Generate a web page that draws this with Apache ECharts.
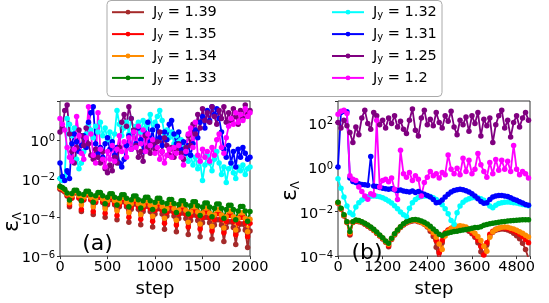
<!DOCTYPE html>
<html><head><meta charset="utf-8">
<script src="https://cdn.jsdelivr.net/npm/echarts@6/dist/echarts.min.js"></script>
<style>html,body{margin:0;padding:0;background:#fff}#c{width:549px;height:303px}</style>
</head><body><div id="c"></div>
<script>
const FONT = 'DejaVu Sans';
const jyLabels = ['1.39','1.35','1.34','1.33','1.32','1.31','1.25','1.2'];
const colors = ['#a52a2a','#ff0000','#ff8c00','#008000','#00ffff','#0000ff','#800080','#ff00ff'];

const xTicksA = [0,500,1000,1500,2000];
const xTicksB = [0,1200,2400,3600,4800];
const yExpA = [-6,-4,-2,0];
const yExpB = [-4,-2,0,2];

const stepsA = [0,25,50,75,100,125,150,175,200,225,250,275,300,325,350,375,400,425,450,475,500,525,550,575,600,625,650,675,700,725,750,775,800,825,850,875,900,925,950,975,1000,1025,1050,1075,1100,1125,1150,1175,1200,1225,1250,1275,1300,1325,1350,1375,1400,1425,1450,1475,1500,1525,1550,1575,1600,1625,1650,1675,1700,1725,1750,1775,1800,1825,1850,1875,1900,1925,1950,1975,2000];

const brownA = [2.8e-3,2.5e-3,2.0e-3,1.26e-3,3.5e-4,
1.0e-3,1.8e-3,1.8e-3,1.0e-3,2.0e-4,
7.8e-4,1.4e-3,1.4e-3,7.8e-4,1.4e-4,
5.8e-4,1.05e-3,1.05e-3,5.8e-4,1.0e-4,
4.5e-4,8.1e-4,8.1e-4,4.5e-4,7.6e-5,
3.5e-4,6.3e-4,6.3e-4,3.5e-4,5.6e-5,
2.6e-4,4.8e-4,4.8e-4,2.6e-4,4.2e-5,
2.0e-4,3.7e-4,3.7e-4,2.0e-4,3.2e-5,
1.5e-4,2.8e-4,2.8e-4,1.5e-4,2.4e-5,
1.17e-4,2.2e-4,2.2e-4,1.17e-4,1.8e-5,
8.7e-5,1.66e-4,1.66e-4,8.7e-5,1.3e-5,
6.8e-5,1.3e-4,1.3e-4,6.8e-5,1.0e-5,
5.2e-5,1.0e-4,1.0e-4,5.2e-5,7.6e-6,
4.0e-5,7.6e-5,7.6e-5,4.0e-5,5.6e-6,
3.0e-5,5.9e-5,5.9e-5,3.0e-5,4.0e-6,
2.2e-5,4.5e-5,4.5e-5,2.2e-5,2.8e-6,
2.0e-5];

const redA = [3.3e-3,2.8e-3,2.2e-3,1.4e-3,4.5e-4,
1.0e-3,1.9e-3,1.9e-3,1.0e-3,2.5e-4,
8.3e-4,1.5e-3,1.5e-3,8.3e-4,2.0e-4,
6.6e-4,1.23e-3,1.23e-3,6.6e-4,1.6e-4,
5.4e-4,1.0e-3,1.0e-3,5.4e-4,1.26e-4,
4.4e-4,8.1e-4,8.1e-4,4.4e-4,1.0e-4,
3.5e-4,6.6e-4,6.6e-4,3.5e-4,7.9e-5,
2.8e-4,5.4e-4,5.4e-4,2.8e-4,6.3e-5,
2.3e-4,4.4e-4,4.4e-4,2.3e-4,5.0e-5,
1.8e-4,3.5e-4,3.5e-4,1.8e-4,4.0e-5,
1.5e-4,2.9e-4,2.9e-4,1.5e-4,3.2e-5,
1.2e-4,2.3e-4,2.3e-4,1.2e-4,2.5e-5,
9.8e-5,1.9e-4,1.9e-4,9.8e-5,2.0e-5,
7.8e-5,1.55e-4,1.55e-4,7.8e-5,1.6e-5,
6.3e-5,1.26e-4,1.26e-4,6.3e-5,1.26e-5,
5.1e-5,1.0e-4,1.0e-4,5.1e-5,1.0e-5,
5.0e-5];

const orangeA = [3.5e-3,3.2e-3,2.5e-3,1.6e-3,5.6e-4,
1.35e-3,2.1e-3,2.1e-3,1.35e-3,4.5e-4,
1.1e-3,1.8e-3,1.8e-3,1.1e-3,3.5e-4,
8.9e-4,1.5e-3,1.5e-3,8.9e-4,2.8e-4,
7.4e-4,1.26e-3,1.26e-3,7.4e-4,2.2e-4,
6.2e-4,1.05e-3,1.05e-3,6.2e-4,1.8e-4,
5.0e-4,8.7e-4,8.7e-4,5.0e-4,1.4e-4,
4.2e-4,7.2e-4,7.2e-4,4.2e-4,1.12e-4,
3.5e-4,6.2e-4,6.2e-4,3.5e-4,8.9e-5,
2.8e-4,5.1e-4,5.1e-4,2.8e-4,7.1e-5,
2.3e-4,4.3e-4,4.3e-4,2.3e-4,5.6e-5,
1.9e-4,3.5e-4,3.5e-4,1.9e-4,4.5e-5,
1.6e-4,3.0e-4,3.0e-4,1.6e-4,3.5e-5,
1.3e-4,2.5e-4,2.5e-4,1.3e-4,2.8e-5,
1.07e-4,2.1e-4,2.1e-4,1.07e-4,2.2e-5,
8.7e-5,1.74e-4,1.74e-4,8.7e-5,1.8e-5,
7.9e-5];

const greenA = [4.0e-3,3.5e-3,2.8e-3,1.8e-3,7.9e-4,
1.7e-3,2.5e-3,2.5e-3,1.7e-3,7.1e-4,
1.5e-3,2.2e-3,2.2e-3,1.5e-3,6.0e-4,
1.3e-3,1.9e-3,1.9e-3,1.3e-3,5.0e-4,
1.1e-3,1.66e-3,1.66e-3,1.1e-3,4.3e-4,
9.5e-4,1.45e-3,1.45e-3,9.5e-4,3.5e-4,
8.1e-4,1.26e-3,1.26e-3,8.1e-4,3.0e-4,
7.1e-4,1.1e-3,1.1e-3,7.1e-4,2.5e-4,
6.0e-4,9.5e-4,9.5e-4,6.0e-4,2.1e-4,
5.2e-4,8.3e-4,8.3e-4,5.2e-4,1.8e-4,
4.6e-4,7.2e-4,7.2e-4,4.6e-4,1.5e-4,
3.9e-4,6.3e-4,6.3e-4,3.9e-4,1.26e-4,
3.4e-4,5.5e-4,5.5e-4,3.4e-4,1.07e-4,
2.9e-4,4.8e-4,4.8e-4,2.9e-4,8.9e-5,
2.5e-4,4.2e-4,4.2e-4,2.5e-4,7.6e-5,
2.1e-4,3.6e-4,3.6e-4,2.1e-4,6.3e-5,
2.0e-4];

const cyanA = [0.01,0.0079,0.0126,12.6,6.3,1.6,4,0.1,0.032,0.063,
0.25,2,6.3,3.2,1.26,5,2.5,7.9,1.6,4,
1,2.5,0.63,2,32,6.3,1.6,4,7.9,2,
12.6,3.2,5,7.9,2.5,10,4,6.3,20,3.2,
7.9,16,32,10,2,3.2,1.26,2.5,0.63,1.6,
0.79,1,0.4,0.2,0.079,0.16,0.05,0.126,0.032,0.079,
0.0079,0.05,0.16,0.063,0.025,0.1,0.25,0.063,0.016,0.04,
0.0063,0.032,0.063,0.02,0.01,0.04,0.025,0.05,0.016,0.032,
0.04];

const blueA = [0.063,0.0126,0.0079,0.025,0.01,0.63,2,0.79,0.25,0.5,
1.6,0.4,7.9,25,50,0.63,0.2,0.4,0.126,0.63,
1.26,0.32,0.79,0.16,0.4,0.063,0.04,0.1,0.5,1.6,
0.32,2.5,0.63,4,1,0.25,2,7.9,0.79,3.2,
0.4,5,1.26,0.5,2.5,1,6.3,10,2,0.63,
2.5,0.32,0.79,0.2,0.5,0.16,0.63,3.2,1.26,7.9,
16,4,32,10,50,20,40,12.6,2.5,0.32,
0.126,0.5,0.063,0.25,0.04,0.32,0.126,0.4,0.2,0.1,
0.126];

const purpleA = [2.5,4,32,63,2,0.25,0.063,0.4,3.2,1.6,
0.5,4,0.63,0.16,0.1,0.32,0.126,0.063,0.25,0.032,
0.02,0.05,0.025,0.126,0.063,0.4,7.9,20,5,50,
12.6,3.2,0.5,0.126,0.25,0.079,1.6,0.4,0.2,0.63,
0.32,0.79,2.5,0.25,1.26,0.5,0.16,0.4,0.126,0.32,
0.63,0.2,0.1,0.4,1.6,0.5,6.3,2,20,4,
40,10,25,7.9,50,16,6.3,32,12.6,50,
7.9,25,10,40,16,6.3,32,12.6,63,20,
32];

const magentaA = [12.6,6.3,3.2,0.4,0.126,0.079,0.32,16,1.6,0.2,
0.1,1.26,50,2,0.16,0.063,25,0.32,0.1,0.04,
0.25,0.1,0.5,0.079,0.32,1.6,0.25,0.79,0.126,1.26,
0.32,2.5,0.4,5,0.63,3.2,0.25,2,0.5,1,
0.2,0.4,0.1,0.25,0.063,0.16,0.32,0.126,0.4,0.2,
0.5,0.126,0.05,0.25,2,4,0.4,7.9,0.16,0.079,
0.32,0.126,0.25,0.079,0.4,0.16,1,2,0.4,0.2,
1.26,5,12.6,6.3,25,7.9,20,10,40,16,
25];

const stepsB = [0,80,160,240,320,400,480,560,640,720,800,880,960,1040,1120,1200,1280,1360,1440,1520,1600,1680,1760,1840,1920,2000,2080,2160,2240,2320,2400,2480,2560,2640,2720,2800,2880,2960,3040,3120,3200,3280,3360,3440,3520,3600,3680,3760,3840,3920,4000,4080,4160,4240,4320,4400,4480,4560,4640,4720,4800,4880,4960,5040,5120];

const brownB = [0.0234,0.0126,0.0063,0.0032,8.9e-4,0.0032,0.0037,0.0035,0.0032,0.0027,
0.0022,0.0018,0.0014,0.00107,7.9e-4,5.9e-4,4.2e-4,2.6e-4,5.6e-4,8.9e-4,
1.35e-3,1.9e-3,2.5e-3,3.1e-3,3.5e-3,3.8e-3,3.9e-3,3.5e-3,3.2e-3,2.7e-3,
2.0e-3,1.32e-3,7.6e-4,2.5e-4,5.0e-5,4.0e-4,1.0e-3,1.4e-3,1.7e-3,1.86e-3,
1.95e-3,1.95e-3,1.8e-3,1.58e-3,1.32e-3,1.0e-3,7.1e-4,4.0e-4,1.58e-4,4.0e-5,
3.2e-4,7.9e-4,1.17e-3,1.45e-3,1.58e-3,1.66e-3,1.62e-3,1.48e-3,1.29e-3,1.07e-3,
8.3e-4,6.0e-4,3.8e-4,2.0e-4,7.9e-5];

const redB = [0.0245,0.0132,0.0066,0.0033,0.001,0.0033,0.0039,0.0037,0.0033,0.0028,
0.0023,0.0019,0.0015,0.0011,8.3e-4,6.2e-4,4.4e-4,3.0e-4,5.9e-4,9.3e-4,
1.4e-3,2.0e-3,2.6e-3,3.2e-3,3.7e-3,4.0e-3,4.1e-3,3.7e-3,3.2e-3,2.8e-3,
2.2e-3,1.58e-3,1.0e-3,5.0e-4,1.4e-4,5.0e-4,1.12e-3,1.5e-3,1.8e-3,2.0e-3,
2.1e-3,2.1e-3,2.0e-3,1.78e-3,1.48e-3,1.15e-3,8.3e-4,5.2e-4,2.8e-4,1.12e-4,
4.0e-4,9.5e-4,1.32e-3,1.62e-3,1.78e-3,1.86e-3,1.86e-3,1.74e-3,1.58e-3,1.38e-3,
1.17e-3,9.5e-4,7.6e-4,5.6e-4,4.0e-4];

const orangeB = [0.025,0.0135,0.0068,0.0034,0.00112,0.0034,0.004,0.0038,0.0034,0.0029,
0.0024,0.0019,0.0015,0.00115,8.5e-4,6.3e-4,4.5e-4,3.4e-4,6.0e-4,9.5e-4,
1.45e-3,2.0e-3,2.7e-3,3.3e-3,3.8e-3,4.1e-3,4.2e-3,3.8e-3,3.3e-3,2.75e-3,
2.2e-3,1.66e-3,1.12e-3,7.1e-4,3.5e-4,2.0e-4,7.9e-4,1.32e-3,1.74e-3,2.0e-3,
2.2e-3,2.3e-3,2.2e-3,2.0e-3,1.7e-3,1.38e-3,1.05e-3,7.6e-4,5.0e-4,2.8e-4,
1.66e-4,7.1e-4,1.2e-3,1.58e-3,1.8e-3,1.95e-3,2.0e-3,1.95e-3,1.8e-3,1.66e-3,
1.45e-3,1.23e-3,1.05e-3,8.7e-4,7.2e-4];

const greenB = [0.026,0.014,0.0071,0.0035,0.00126,0.0035,0.0042,0.004,0.0035,0.003,
0.0025,0.002,0.0016,0.0012,8.9e-4,6.6e-4,4.8e-4,3.8e-4,6.3e-4,1.0e-3,
1.5e-3,2.1e-3,2.8e-3,3.5e-3,4.0e-3,4.3e-3,4.4e-3,4.2e-3,3.8e-3,3.3e-3,
2.75e-3,2.2e-3,1.66e-3,1.26e-3,9.5e-4,8.5e-4,1.0e-3,1.1e-3,1.17e-3,1.26e-3,
1.32e-3,1.41e-3,1.48e-3,1.58e-3,1.66e-3,1.78e-3,1.9e-3,1.9e-3,2.1e-3,2.4e-3,
2.6e-3,2.8e-3,3.0e-3,3.16e-3,3.3e-3,3.5e-3,3.6e-3,3.8e-3,3.9e-3,4.0e-3,
4.1e-3,4.2e-3,4.3e-3,4.3e-3,4.3e-3];

const cyanB = [0.30,0.112,0.045,0.0178,0.0089,0.0071,0.016,0.025,0.033,0.04,
0.046,0.049,0.05,0.049,0.046,0.042,0.036,0.03,0.024,0.018,
0.0132,0.0095,0.0071,0.006,0.014,0.025,0.035,0.043,0.048,0.05,
0.05,0.047,0.042,0.035,0.0275,0.02,0.0132,0.0079,0.004,0.0027,
0.0089,0.0178,0.026,0.033,0.038,0.042,0.043,0.042,0.038,0.032,
0.024,0.0178,0.015,0.019,0.023,0.025,0.026,0.027,0.026,0.025,
0.024,0.0224,0.021,0.0195,0.018];

const blueB = [1,282,316,300,0.32,0.224,0.2,0.178,0.166,0.158,
0.151,2.95,0.141,0.132,0.12,0.112,0.107,0.1,0.105,0.095,
0.089,0.093,0.083,0.079,0.076,0.083,0.071,0.079,0.066,0.06,
0.052,0.045,0.035,0.025,0.026,0.033,0.045,0.06,0.076,0.089,
0.095,0.1,0.095,0.087,0.076,0.063,0.05,0.038,0.028,0.0234,
0.025,0.035,0.045,0.05,0.052,0.052,0.05,0.047,0.042,0.036,
0.032,0.0275,0.024,0.021,0.019];

const purpleB = [100,56,126,71,35,12.6,63,28,160,355,
89,50,282,200,79,126,56,160,89,200,
63,112,50,32,126,400,45,25,160,355,
79,141,71,282,100,56,200,112,316,63,
28,126,79,178,40,200,89,282,25,141,
71,160,12.6,79,200,355,56,126,22,100,
200,63,160,282,126];

const magentaB = [234,316,355,251,0.4,0.28,0.25,0.126,0.079,0.05,
0.036,0.063,0.056,126,0.126,0.25,0.28,0.22,0.32,0.1,
0.035,5.6,0.5,0.35,0.56,0.25,0.4,0.28,0.05,0.2,
0.35,0.63,0.4,0.5,0.32,0.56,0.45,3.5,0.79,0.5,
0.89,0.45,2.5,0.63,2,0.5,0.79,4,1.26,0.63,
0.35,1.6,0.5,2.2,0.71,2,0.79,1.8,0.63,9.3,
0.79,0.45,0.63,0.5,0.32];

const panelA = [brownA, redA, orangeA, greenA, cyanA, blueA, purpleA, magentaA];
const panelB = [brownB, redB, orangeB, greenB, cyanB, blueB, purpleB, magentaB];

const sname = (j) => 'Jy = ' + j;

const series = [];
[[stepsA, panelA], [stepsB, panelB]].forEach(([steps, vals], p) => {
  vals.forEach((arr, k) => {
    series.push({
      type: 'line', name: sname(jyLabels[k]), xAxisIndex: p, yAxisIndex: p,
      data: steps.map((s, i) => [s, arr[i]]),
      symbol: 'circle', symbolSize: 5.5, showSymbol: true, clip: true,
      lineStyle: { width: 1.8, color: colors[k] }, itemStyle: { color: colors[k] },
      emphasis: { disabled: true }, animation: false
    });
  });
});

function yFmt(allowed) {
  return function (v) {
    const l = Math.log10(v), e = Math.round(l);
    if (Math.abs(l - e) > 1e-6 || allowed.indexOf(e) < 0) return '';
    return '{b|10}{s|' + (e < 0 ? '\u2212' + (-e) : String(e)) + '}';
  };
}
function xFmt(allowed) { return v => allowed.indexOf(v) >= 0 ? String(v) : ''; }

const labRich = {
  b: { fontFamily: FONT, fontSize: 14.5, color: '#000', lineHeight: 16, verticalAlign: 'bottom' },
  s: { fontFamily: FONT, fontSize: 10, color: '#000', lineHeight: 10, verticalAlign: 'top' }
};

function xAxis(g, max, interval, ticks) {
  return {
    gridIndex: g, type: 'value', min: 0, max: max, interval: interval,
    axisLine: { show: false }, splitLine: { show: false },
    axisTick: { show: true, length: 3, lineStyle: { color: '#333', width: 1 } },
    axisLabel: { fontFamily: FONT, fontSize: 14.5, color: '#000', margin: 4, formatter: xFmt(ticks), hideOverlap: false },
    name: 'step', nameLocation: 'middle', nameGap: 17,
    nameTextStyle: { fontFamily: FONT, fontSize: 18, color: '#000' }
  };
}
function yAxis(g, min, max, allowed) {
  return {
    gridIndex: g, type: 'log', logBase: 10, min: min, max: max, interval: 2,
    axisLine: { show: false }, splitLine: { show: false }, minorTick: { show: false },
    axisTick: { show: true, length: 3, lineStyle: { color: '#333', width: 1 } },
    axisLabel: { formatter: yFmt(allowed), margin: 5, padding: [4, 0, 0, 0], rich: labRich, hideOverlap: false }
  };
}

const legRich = {
  j: { fontFamily: FONT, fontSize: 14.5, color: '#000', lineHeight: 16, padding: [0, 0, 0, 4] },
  y: { fontFamily: FONT, fontSize: 10, color: '#000', lineHeight: 10, verticalAlign: 'bottom' },
  t: { fontFamily: FONT, fontSize: 14.5, color: '#000', lineHeight: 16 }
};
const legFmt = (name) => '{j|J}{y|y}{t| = ' + name.split('= ')[1] + '}';

function legend(idxs, left) {
  return {
    data: idxs.map(i => sname(jyLabels[i])), left: left, top: 4.7, orient: 'vertical',
    itemWidth: 32, itemHeight: 6, itemGap: 6.4, padding: 0,
    formatter: legFmt, textStyle: { rich: legRich }, selectedMode: false
  };
}

const yLab = (x, y) => ({
  type: 'text', x: x, y: y, rotation: Math.PI / 2, z: 10,
  style: {
    text: '{e|\u03b5}{s|\u039b}', align: 'center', verticalAlign: 'middle',
    rich: {
      e: { fontFamily: FONT, fontSize: 22, fill: '#000', lineHeight: 24, verticalAlign: 'middle' },
      s: { fontFamily: FONT, fontSize: 12, fill: '#000', lineHeight: 14, verticalAlign: 'bottom' }
    }
  }
});

const option = {
  animation: false,
  grid: [
    { left: 60, top: 101, width: 190, height: 164, show: true, borderColor: '#333', borderWidth: 1, backgroundColor: 'rgba(0,0,0,0)' },
    { left: 338, top: 101, width: 192, height: 164, show: true, borderColor: '#333', borderWidth: 1, backgroundColor: 'rgba(0,0,0,0)' }
  ],
  xAxis: [xAxis(0, 2000, 500, xTicksA), xAxis(1, 5160, 1200, xTicksB)],
  yAxis: [yAxis(0, 1e-6, 100, yExpA), yAxis(1, 1e-4, 920, yExpB)],
  legend: [legend([0, 1, 2, 3], 111), legend([4, 5, 6, 7], 331)],
  graphic: [
    { type: 'rect', shape: { x: 107, y: 0.5, width: 335, height: 96, r: 4 }, style: { fill: '#fff', stroke: '#aaa', lineWidth: 1 }, z: -1 },
    { type: 'text', x: 97.5, y: 244, z: 10, style: { text: '(a)', fontFamily: FONT, fontSize: 22, fill: '#000', align: 'center', verticalAlign: 'middle' } },
    { type: 'text', x: 367, y: 253, z: 10, style: { text: '(b)', fontFamily: FONT, fontSize: 22, fill: '#000', align: 'center', verticalAlign: 'middle' } },
    yLab(12, 222), yLab(290, 191)
  ],
  series: series
};

const chart = echarts.init(document.getElementById('c'), null, { renderer: 'canvas' });
chart.setOption(option);
</script>
</body></html>
